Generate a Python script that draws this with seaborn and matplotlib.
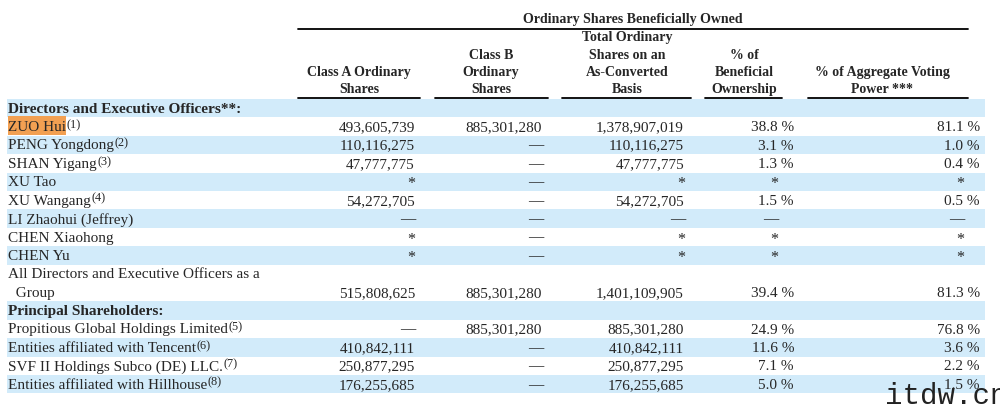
import matplotlib
import matplotlib.pyplot as plt
import seaborn as sns

matplotlib.use('Agg')
sns.set_theme(style="white")
plt.rcParams['font.family'] = ['Liberation Serif', 'DejaVu Serif']

# 表格資料
names = ["Directors and Executive Officers**:", "ZUO Hui", "PENG Yongdong", "SHAN Yigang",
         "XU Tao", "XU Wangang", "LI Zhaohui (Jeffrey)", "CHEN Xiaohong", "CHEN Yu",
         "All Directors and Executive Officers as a\n  Group", "Principal Shareholders:",
         "Propitious Global Holdings Limited", "Entities affiliated with Tencent",
         "SVF II Holdings Subco (DE) LLC.", "Entities affiliated with Hillhouse"]
notes = ["", "(1)", "(2)", "(3)", "", "(4)", "", "", "", "", "", "(5)", "(6)", "(7)", "(8)"]
is_section = [True] + [False] * 9 + [True] + [False] * 4
class_a = [None, 493605739, 110116275, 47777775, "*", 54272705, "—", "*", "*",
           515808625, None, "—", 410842111, 250877295, 176255685]
class_b = [None, 885301280, "—", "—", "—", "—", "—", "—", "—",
           885301280, None, 885301280, "—", "—", "—"]
total = [None, 1378907019, 110116275, 47777775, "*", 54272705, "—", "*", "*",
         1401109905, None, 885301280, 410842111, 250877295, 176255685]
pct_own = [None, 38.8, 3.1, 1.3, "*", 1.5, "—", "*", "*", 39.4, None, 24.9, 11.6, 7.1, 5.0]
pct_vote = [None, 81.1, 1.0, 0.4, "*", 0.5, "—", "*", "*", 81.3, None, 76.8, 3.6, 2.2, 1.5]

headers = ["Class A Ordinary\nShares", "Class B\nOrdinary\nShares",
           "Total Ordinary\nShares on an\nAs-Converted\nBasis",
           "% of\nBeneficial\nOwnership", "% of Aggregate Voting\nPower ***"]
group_title = "Ordinary Shares Beneficially Owned"

# 版面設定（像素座標）
BLUE = "#d2ebfa"
top, unit = 99, 18.4
heights = [2 if "\n" in n else 1 for n in names]
col_spans = [(298, 420), (435, 548), (562, 691), (705, 782), (808, 968)]
head_x = [359, 491, 627, 744, 882]
num_right = [415, 542, 684, 794, 980]
mark_right = [415, 543, 685, 778, 964]
fs = 11

fig = plt.figure(figsize=(10, 4.05), dpi=100)
ax = fig.add_axes([0, 0, 1, 1])
ax.set_xlim(0, 1000)
ax.set_ylim(405, 0)
ax.axis("off")

# 底色條紋
ys, y = [], top
for h in heights:
    ys.append(y)
    y += h * unit
centers = [y0 + h * unit / 2 for y0, h in zip(ys, heights)]
colors = [BLUE if i % 2 == 0 else "white" for i in range(len(names))]
ax.barh(centers, 978, left=7, height=[h * unit for h in heights], color=colors, linewidth=0)

# ZUO Hui 標示
ax.barh(centers[1] - 1, 58, left=8, height=unit, color="#f2a052", linewidth=0, zorder=1.5)

# 表頭
ax.text(633, 20, group_title, ha="center", va="center", fontsize=10, fontweight="bold")
ax.plot([298, 968], [29, 29], color="black", lw=1.3)
for (x0, x1), hx, htxt in zip(col_spans, head_x, headers):
    lines = htxt.split("\n")
    for k, line in enumerate(reversed(lines)):
        ax.text(hx, 89.5 - k * 17.2, line, ha="center", va="center", fontsize=10, fontweight="bold")
    ax.plot([x0, x1], [98, 98], color="black", lw=1.3)


def fmt(v, pct):
    if v is None:
        return None
    if isinstance(v, str):
        return v
    return f"{v:.1f} %" if pct else f"{v:,}"


name_texts = []
for i, name in enumerate(names):
    yb = ys[i] + heights[i] * unit
    if heights[i] == 2:
        l1, l2 = name.split("\n")
        ax.text(8, ys[i] + unit / 2 + 1, l1, va="center", fontsize=fs)
        ax.text(8, yb - unit / 2 + 1, l2, va="center", fontsize=fs)
        t = None
    else:
        t = ax.text(8, yb - unit / 2 + 1, name, va="center", fontsize=fs,
                    fontweight="bold" if is_section[i] else "normal")
    name_texts.append(t)
    cols = [class_a[i], class_b[i], total[i], pct_own[i], pct_vote[i]]
    for c, v in enumerate(cols):
        s = fmt(v, c >= 3)
        if s is None:
            continue
        if s == "*":
            ax.text(mark_right[c], yb - unit / 2 + 2.5, s, ha="right", va="center", fontsize=fs + 0.5)
        elif s == "—":
            ax.text(mark_right[c], yb - unit / 2 + 1, s, ha="right", va="center", fontsize=fs)
        else:
            ax.text(num_right[c], yb - unit / 2 + 1, s, ha="right", va="center", fontsize=fs)

# 註腳上標
fig.canvas.draw()
renderer = fig.canvas.get_renderer()
inv = ax.transData.inverted()
for i, t in enumerate(name_texts):
    if t is None or not notes[i]:
        continue
    bb = t.get_window_extent(renderer)
    x_end = inv.transform((bb.x1, bb.y0))[0]
    yb = ys[i] + heights[i] * unit
    ax.text(x_end + 0.5, yb - unit / 2 - 1.5, notes[i], va="center", fontsize=8.8)

# 浮水印
ax.text(885, 404, "itdw.cn", fontsize=21, family="Liberation Mono", color="#222222", va="baseline")

fig.savefig("out.png", dpi=100)
plt.close(fig)
